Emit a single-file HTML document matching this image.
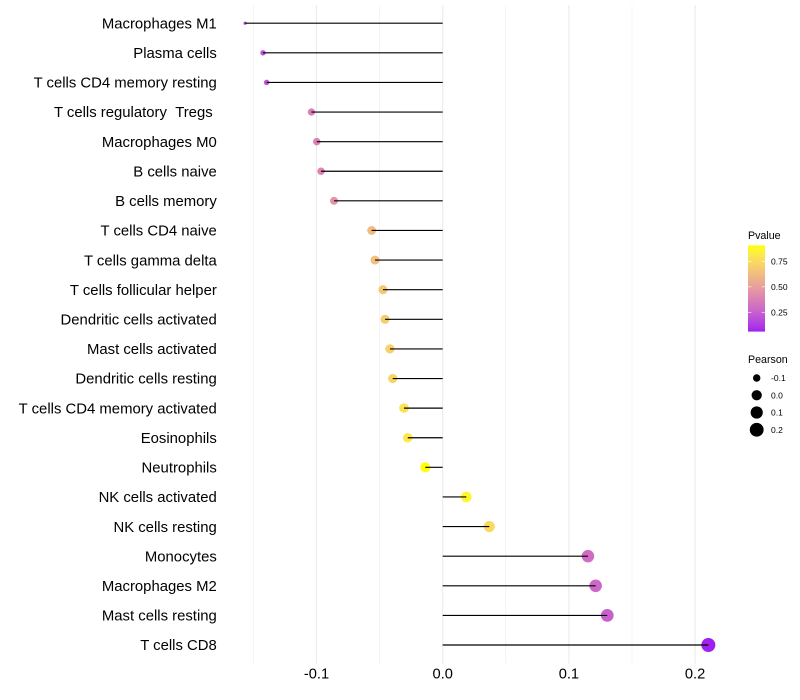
<!DOCTYPE html>
<html>
<head>
<meta charset="utf-8">
<title>Immune cell correlation lollipop chart</title>
<style>
html,body{margin:0;padding:0;background:#fff;}
svg{display:block;font-family:"Liberation Sans",sans-serif;}
</style>
</head>
<body>
<svg id="chart" xmlns="http://www.w3.org/2000/svg" width="800" height="700" viewBox="0 0 800 700">
<defs><linearGradient id="pvalue-gradient" x1="0" y1="1" x2="0" y2="0"></linearGradient></defs>
<rect x="0" y="0" width="800" height="700" fill="#ffffff"/>
<g id="grid"></g>
<g id="points"></g>
<g id="segments"></g>
<g id="ylabels"></g>
<g id="xlabels"></g>
<g id="legend-color"></g>
<g id="legend-size"></g>
</svg>
<script>
var categories = ["Macrophages M1","Plasma cells","T cells CD4 memory resting","T cells regulatory\u00a0\u00a0Tregs\u00a0","Macrophages M0","B cells naive","B cells memory","T cells CD4 naive","T cells gamma delta","T cells follicular helper","Dendritic cells activated","Mast cells activated","Dendritic cells resting","T cells CD4 memory activated","Eosinophils","Neutrophils","NK cells activated","NK cells resting","Monocytes","Macrophages M2","Mast cells resting","T cells CD8"];
var pearson = [-0.1566,-0.1424,-0.1395,-0.1040,-0.0998,-0.0964,-0.0861,-0.0563,-0.0536,-0.0473,-0.0457,-0.0418,-0.0396,-0.0307,-0.0277,-0.0138,0.0187,0.0369,0.1151,0.1212,0.1304,0.2105];
var pvalues = [0.16,0.20,0.21,0.37,0.38,0.40,0.46,0.62,0.64,0.68,0.69,0.71,0.73,0.79,0.81,0.907,0.87,0.75,0.30,0.28,0.25,0.06];
var xMajorTicks = [-0.1,0,0.1,0.2];
var xMajorLabels = ["-0.1","0.0","0.1","0.2"];
var xMinorTicks = [-0.15,-0.05,0.05,0.15];
var pvalueTicks = [0.25,0.5,0.75];
var pvalueLabels = ["0.25","0.50","0.75"];
var pearsonTicks = [-0.1,0,0.1,0.2];
var pearsonLabels = ["-0.1","0.0","0.1","0.2"];

var NS = "http://www.w3.org/2000/svg";
function make(tag, attrs, parent, text) {
  var el = document.createElementNS(NS, tag);
  for (var k in attrs) { el.setAttribute(k, attrs[k]); }
  if (text !== undefined) { el.textContent = text; }
  parent.appendChild(el);
  return el;
}
function x(v) { return 442.7 + v * 1262; }
function y(i) { return 23.2 + i * 29.61; }

var pMin = Math.min.apply(null, pvalues);
var pMax = Math.max.apply(null, pvalues);
var rMin = Math.min.apply(null, pearson);
var rMax = Math.max.apply(null, pearson);
function radius(v) {
  var t = (v - rMin) / (rMax - rMin);
  return 1.6 + 5.4 * Math.sqrt(Math.max(t, 0));
}

function toLin(c) { c /= 255; return c <= 0.04045 ? c / 12.92 : Math.pow((c + 0.055) / 1.055, 2.4); }
function fromLin(c) { var s = c <= 0.0031308 ? 12.92 * c : 1.055 * Math.pow(c, 1 / 2.4) - 0.055; return Math.round(Math.min(1, Math.max(0, s)) * 255); }
function rgb2lab(c) {
  var r = toLin(c[0]), g = toLin(c[1]), b = toLin(c[2]);
  var X = (0.4124564 * r + 0.3575761 * g + 0.1804375 * b) / 0.95047;
  var Y = 0.2126729 * r + 0.7151522 * g + 0.0721750 * b;
  var Z = (0.0193339 * r + 0.1191920 * g + 0.9503041 * b) / 1.08883;
  function f(t) { return t > 0.008856 ? Math.cbrt(t) : 7.787 * t + 16 / 116; }
  return [116 * f(Y) - 16, 500 * (f(X) - f(Y)), 200 * (f(Y) - f(Z))];
}
function lab2rgb(l) {
  var fy = (l[0] + 16) / 116, fx = fy + l[1] / 500, fz = fy - l[2] / 200;
  function g(t) { return t * t * t > 0.008856 ? t * t * t : (t - 16 / 116) / 7.787; }
  var X = g(fx) * 0.95047, Y = g(fy), Z = g(fz) * 1.08883;
  return "rgb(" + fromLin(3.2404542 * X - 1.5371385 * Y - 0.4985314 * Z) + "," +
    fromLin(-0.9692660 * X + 1.8760108 * Y + 0.0415560 * Z) + "," +
    fromLin(0.0556434 * X - 0.2040259 * Y + 1.0572252 * Z) + ")";
}
var labLow = rgb2lab([160, 32, 240]);
var labHigh = rgb2lab([255, 255, 0]);
function colorAt(t) {
  return lab2rgb([0, 1, 2].map(function (i) { return labLow[i] + (labHigh[i] - labLow[i]) * t; }));
}
function pColor(p) { return colorAt((p - pMin) / (pMax - pMin)); }

var grid = document.getElementById("grid");
xMinorTicks.forEach(function (v) {
  var l = make("line", {x1: x(v), x2: x(v), y1: 5, y2: 663.5, stroke: "#ebebeb", "stroke-width": 0.55}, grid);
  
  
});
xMajorTicks.forEach(function (v) {
  var l = make("line", {x1: x(v), x2: x(v), y1: 5, y2: 663.5, stroke: "#ebebeb", "stroke-width": 1.07}, grid);
  
  
});

var pts = document.getElementById("points");
var segs = document.getElementById("segments");
var ylab = document.getElementById("ylabels");
categories.forEach(function (name, i) {
  var c = make("circle", {cx: x(pearson[i]), cy: y(i), r: radius(pearson[i]), fill: pColor(pvalues[i])}, pts);
  
  
  var s = make("line", {x1: x(0), x2: x(pearson[i]), y1: y(i), y2: y(i), stroke: "#000000", "stroke-width": 1.15}, segs);
  
  
  var t = make("text", {x: 216.8, y: y(i) + 5.2, "text-anchor": "end", "font-size": 14.88, fill: "#000000"}, ylab, name);
  
  
});

var xlab = document.getElementById("xlabels");
xMajorTicks.forEach(function (v, i) {
  var t = make("text", {x: x(v), y: 678.5, "text-anchor": "middle", "font-size": 14.67, fill: "#000000"}, xlab, xMajorLabels[i]);
  
  
});

var lc = document.getElementById("legend-color");
var barTop = 245.4, barBottom = 331.6, barLeft = 748, barRight = 765;
function legendY(p) { return barBottom - (p - pMin) / (pMax - pMin) * (barBottom - barTop); }
var grad = document.getElementById("pvalue-gradient");
for (var n = 0; n <= 20; n++) {
  make("stop", {offset: n / 20, "stop-color": colorAt(n / 20)}, grad);
}
var ct = make("text", {x: barLeft, y: 239, "font-size": 10.67, fill: "#000000"}, lc, "Pvalue");


var bar = make("rect", {x: barLeft, y: barTop, width: barRight - barLeft, height: barBottom - barTop, fill: "url(#pvalue-gradient)"}, lc);


pvalueTicks.forEach(function (p, i) {
  var yy = legendY(p);
  var a = make("line", {x1: barLeft, x2: barLeft + 3.4, y1: yy, y2: yy, stroke: "#ffffff", "stroke-width": 0.6}, lc);
  
  
  var b = make("line", {x1: barRight - 3.4, x2: barRight, y1: yy, y2: yy, stroke: "#ffffff", "stroke-width": 0.6}, lc);
  
  
  var t = make("text", {x: 771, y: yy + 3, "font-size": 8.53, fill: "#000000"}, lc, pvalueLabels[i]);
  
  
});

var ls = document.getElementById("legend-size");
var st = make("text", {x: 748, y: 363, "font-size": 10.67, fill: "#000000"}, ls, "Pearson");


pearsonTicks.forEach(function (v, i) {
  var cy = 378 + i * 17.25;
  var c = make("circle", {cx: 756.7, cy: cy, r: radius(v), fill: "#000000"}, ls);
  
  
  var t = make("text", {x: 771, y: cy + 3, "font-size": 8.53, fill: "#000000"}, ls, pearsonLabels[i]);
  
  
});
</script>
</body>
</html>
